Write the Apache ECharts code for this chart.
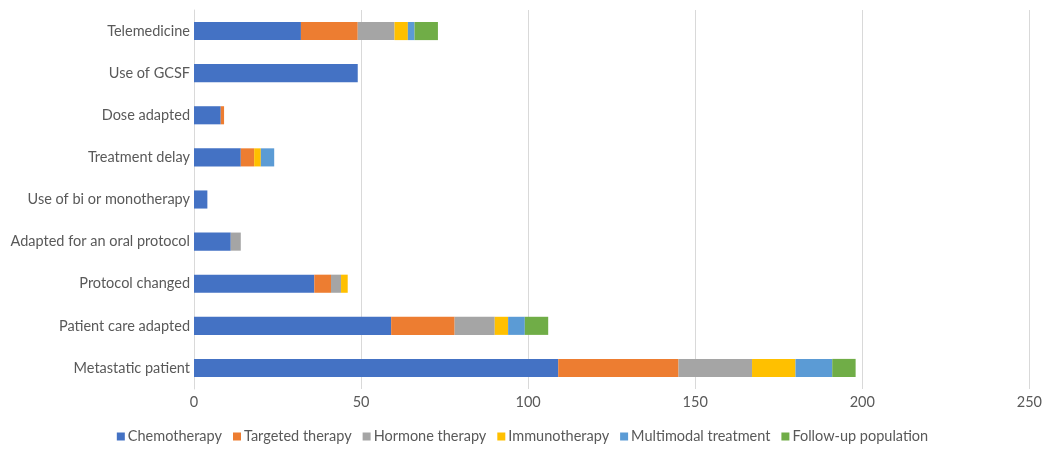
<!DOCTYPE html>
<html>
<head>
<meta charset="utf-8">
<script src="https://cdn.jsdelivr.net/npm/echarts@6/dist/echarts.min.js"></script>
<style>html,body{margin:0;padding:0;background:#fff}#c{width:1045px;height:449px}</style>
</head>
<body>
<div id="c"></div>
<script>
const categories = ["Metastatic patient","Patient care adapted","Protocol changed","Adapted for an oral protocol","Use of bi or monotherapy","Treatment delay","Dose adapted","Use of GCSF","Telemedicine"];
const seriesNames = ["Chemotherapy","Targeted therapy","Hormone therapy","Immunotherapy","Multimodal treatment","Follow-up population"];
const chemotherapy = [109,59,36,11,4,14,8,49,32];
const targeted = [36,19,5,0,0,4,1,0,17];
const hormone = [22,12,3,3,0,0,0,0,11];
const immuno = [13,4,2,0,0,2,0,0,4];
const multimodal = [11,5,0,0,0,4,0,0,2];
const followup = [7,7,0,0,0,0,0,0,7];
const xTicks = [0,50,100,150,200,250];
const colors = ["#4472C4","#ED7D31","#A5A5A5","#FFC000","#5B9BD5","#70AD47"];
const values = [chemotherapy,targeted,hormone,immuno,multimodal,followup];

const chart = echarts.init(document.getElementById('c'));
chart.setOption({
  animation:false,
  textStyle:{fontFamily:"Lato, Liberation Sans, Arial, sans-serif"},
  grid:{left:194,right:14,top:10,bottom:60,containLabel:false},
  legend:{
    bottom:0,left:'center',
    itemWidth:8,itemHeight:8,itemGap:11,
    icon:'rect',
    textStyle:{color:'#595959',fontSize:14.5,padding:[0,0,0,-2]},
    data:seriesNames
  },
  xAxis:{
    type:'value',min:xTicks[0],max:xTicks[xTicks.length-1],interval:50,
    axisLine:{show:false},axisTick:{show:false},
    axisLabel:{color:'#595959',fontSize:14.5,margin:6},
    splitLine:{lineStyle:{color:'#d9d9d9',width:1}}
  },
  yAxis:{
    type:'category',data:categories,
    axisLine:{show:true,lineStyle:{color:'#d9d9d9'}},
    axisTick:{show:false},
    axisLabel:{color:'#595959',fontSize:14.5,margin:4}
  },
  series: seriesNames.map((n,i)=>({
    name:n,type:'bar',stack:'s',data:values[i],barWidth:'43%',
    itemStyle:{color:colors[i]}
  }))
});
</script>
</body>
</html>
